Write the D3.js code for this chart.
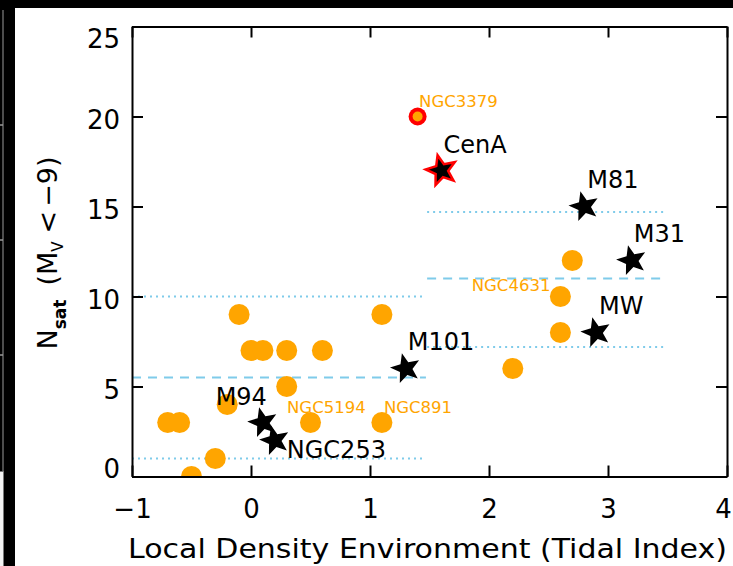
<!DOCTYPE html>
<html>
<head>
<meta charset="utf-8">
<script src="https://cdn.jsdelivr.net/npm/d3@7"></script>
<style>
  html, body { margin: 0; padding: 0; background: #fff; }
  svg { display: block; }
  text { font-family: "DejaVu Sans", sans-serif; }
</style>
</head>
<body>
<svg id="chart" width="733" height="566"></svg>
<script>
// ---- axis ticks ----
const xTickValues = [-1, 0, 1, 2, 3, 4];
const xTickLabels = ["\u22121", "0", "1", "2", "3", "4"];
const yTickValues = [0, 5, 10, 15, 20, 25];
const yTickLabels = ["0", "5", "10", "15", "20", "25"];

// ---- group galaxies (orange dots): tidal index and satellite count ----
const groupTidal = [-0.7, -0.6, -0.5, -0.3, -0.2, -0.1, 0.0, 0.1, 0.3, 0.3, 0.6, 0.5, 1.1, 1.1, 2.2, 2.6, 2.6, 2.7];
const groupNsat  = [3, 3, 0, 1, 4, 9, 7, 7, 7, 5, 7, 3, 9, 3, 6, 8, 10, 12];
const groupNames = ["", "", "", "", "", "", "", "", "", "", "", "NGC5194", "", "NGC891", "", "", "NGC4631", ""];

// ---- host galaxies (stars) ----
const hostNames = ["CenA", "M81", "M31", "MW", "M101", "M94", "NGC253"];
const hostTidal = [1.6, 2.8, 3.2, 2.9, 1.3, 0.1, 0.2];
const hostNsat  = [17, 15, 12, 8, 6, 3, 2];

// ---- highlighted group (ringed dot) ----
const ringNames = ["NGC3379"];
const ringTidal = [1.4];
const ringNsat  = [20];

// ---- mean and ±1 sigma levels for the two environment bins ----
const lowBinRange  = [-1, 1.47];
const lowBinLevels = [10, 5.5, 1];
const highBinRange  = [1.48, 3.47];
const highBinLevels = [14.7, 11.0, 7.2];
const levelKinds = ["dotted", "dashed", "dotted"];

// ---- label placement relative to each mark (pixels) ----
const hostLabelOffset = {
  CenA:   { dx: 2,  dy: -17.5, anchor: "start" },
  M81:    { dx: 3,  dy: -18.5, anchor: "start" },
  M31:    { dx: 2,  dy: -18.5, anchor: "start" },
  MW:     { dx: 3,  dy: -18.5, anchor: "start" },
  M101:   { dx: 2,  dy: -18.5, anchor: "start" },
  M94:    { dx: 4,  dy: -17.5, anchor: "end" },
  NGC253: { dx: 12, dy: 17.5,  anchor: "start" }
};
const groupLabelOffset = {
  NGC5194: { dx: -23.5, dy: -9.5, anchor: "start" },
  NGC891:  { dx: 2,     dy: -9.5, anchor: "start" },
  NGC4631: { dx: -10,   dy: -5.5, anchor: "end" },
  NGC3379: { dx: 1.5,   dy: -9.5, anchor: "start" }
};

const svg = d3.select("#chart");
const W = 733, H = 566;
const plot = { left: 132, right: 727, top: 26.5, bottom: 476.5 };

const x = d3.scaleLinear().domain([-1, 4]).range([plot.left, plot.right]);
const y = d3.scaleLinear().domain([0, 25]).range([plot.bottom, plot.top]);

const orange = "#FFA500";
const blue = "#7FCBEA";

// ---- dark frame along the top and left edges ----
svg.append("rect").attr("x", 0).attr("y", 0).attr("width", W).attr("height", H).attr("fill", "#fff");
svg.append("rect").attr("x", 0).attr("y", 0).attr("width", W).attr("height", 8).attr("fill", "#000");
svg.append("rect").attr("x", 0).attr("y", 0).attr("width", 15).attr("height", H).attr("fill", "#000");
svg.append("line").attr("x1", 3).attr("x2", 3).attr("y1", 10).attr("y2", 471)
  .attr("stroke", "#9a9a9a").attr("stroke-width", 1);
[125, 240, 355].forEach(t => {
  svg.append("line").attr("x1", 0).attr("x2", 3).attr("y1", t).attr("y2", t)
    .attr("stroke", "#9a9a9a").attr("stroke-width", 1.5);
});
svg.append("rect").attr("x", 0).attr("y", 472).attr("width", 3.5).attr("height", H - 472).attr("fill", "#f4f4f4");
svg.append("line").attr("x1", 0).attr("x2", 4).attr("y1", 471.5).attr("y2", 471.5)
  .attr("stroke", "#777").attr("stroke-width", 1);

// ---- clip region for marks ----
svg.append("defs").append("clipPath").attr("id", "plotClip")
  .append("rect")
  .attr("x", plot.left).attr("y", plot.top)
  .attr("width", plot.right - plot.left).attr("height", plot.bottom - plot.top);

const marks = svg.append("g").attr("clip-path", "url(#plotClip)");

// ---- mean / sigma level lines ----
function drawLevels(range, levels) {
  levels.forEach((lv, i) => {
    const dotted = levelKinds[i] === "dotted";
    marks.append("line")
      .attr("x1", x(range[0])).attr("x2", x(range[1]))
      .attr("y1", y(lv)).attr("y2", y(lv))
      .attr("stroke", blue)
      .attr("stroke-width", 2)
      .attr("stroke-dasharray", dotted ? "2,4" : "9,7");
  });
}
drawLevels(lowBinRange, lowBinLevels);
drawLevels(highBinRange, highBinLevels);

// ---- group galaxy dots ----
const groups = groupTidal.map((t, i) => ({ t, n: groupNsat[i], name: groupNames[i] }));
marks.selectAll("circle.group").data(groups).enter().append("circle")
  .attr("class", "group")
  .attr("cx", d => x(d.t)).attr("cy", d => y(d.n))
  .attr("r", 10.5).attr("fill", orange);

// ---- ringed highlight ----
const rings = ringTidal.map((t, i) => ({ t, n: ringNsat[i], name: ringNames[i] }));
marks.selectAll("circle.ring").data(rings).enter().append("circle")
  .attr("cx", d => x(d.t)).attr("cy", d => y(d.n))
  .attr("r", 9).attr("fill", "#ff0000");
marks.selectAll("circle.ringcore").data(rings).enter().append("circle")
  .attr("cx", d => x(d.t)).attr("cy", d => y(d.n))
  .attr("r", 5).attr("fill", orange);

// ---- host stars: five-pointed star with a slightly plump body ----
const plumpStar = {
  draw(context, size) {
    const R = Math.sqrt(size) / 1.1;
    const r = R * 0.43;
    for (let i = 0; i < 10; i++) {
      const a = -Math.PI / 2 + i * Math.PI / 5;
      const rad = i % 2 === 0 ? R : r;
      const px = rad * Math.cos(a), py = rad * Math.sin(a);
      if (i === 0) context.moveTo(px, py); else context.lineTo(px, py);
    }
    context.closePath();
  }
};
const hosts = hostTidal.map((t, i) => ({ t, n: hostNsat[i], name: hostNames[i] }));
const star = d3.symbol().type(plumpStar).size(300);
marks.selectAll("path.host").data(hosts).enter().append("path")
  .attr("class", "host")
  .attr("d", star)
  .attr("transform", d => `translate(${x(d.t)},${y(d.n)}) rotate(-14)`)
  .attr("fill", "#000")
  .attr("stroke", d => d.name === "CenA" ? "#ff0000" : "none")
  .attr("stroke-width", d => d.name === "CenA" ? 2.5 : 0)
  .attr("stroke-linejoin", "miter");

// ---- labels ----
const labels = svg.append("g");
hosts.forEach(d => {
  const o = hostLabelOffset[d.name];
  labels.append("text")
    .attr("x", x(d.t) + o.dx).attr("y", y(d.n) + o.dy)
    .attr("text-anchor", o.anchor)
    .attr("font-size", 24).attr("fill", "#000")
    .text(d.name);
});
groups.concat(rings).filter(d => d.name).forEach(d => {
  const o = groupLabelOffset[d.name];
  labels.append("text")
    .attr("x", x(d.t) + o.dx).attr("y", y(d.n) + o.dy)
    .attr("text-anchor", o.anchor)
    .attr("font-size", 16.5).attr("fill", orange)
    .text(d.name);
});

// ---- axes (ticks pointing inward on all four sides) ----
const axisStyle = g => {
  g.select(".domain").attr("stroke", "#000").attr("stroke-width", 2);
  g.selectAll(".tick line").attr("stroke", "#000").attr("stroke-width", 2);
  g.selectAll(".tick text").attr("font-size", 26).attr("fill", "#000")
    .attr("font-family", "DejaVu Sans, sans-serif");
};

const xAxis = svg.append("g").attr("transform", `translate(0,${plot.bottom})`)
  .call(d3.axisBottom(x).tickValues(xTickValues).tickSize(-11).tickSizeOuter(0)
    .tickPadding(23).tickFormat((d, i) => xTickLabels[i]))
  .call(axisStyle);
// last label is kept inside the canvas
xAxis.selectAll(".tick text").attr("dx", d => d === 4 ? -4 : 0);

svg.append("g").attr("transform", `translate(0,${plot.top})`)
  .call(d3.axisTop(x).tickValues(xTickValues).tickSize(-11).tickSizeOuter(0).tickFormat(""))
  .call(axisStyle);

const yAxis = svg.append("g").attr("transform", `translate(${plot.left},0)`)
  .call(d3.axisLeft(y).tickValues(yTickValues).tickSize(-11).tickSizeOuter(0)
    .tickPadding(12).tickFormat((d, i) => yTickLabels[i]))
  .call(axisStyle);
// end labels are pulled inside the axis range
yAxis.selectAll(".tick text")
  .attr("dy", d => d === 25 ? "0.8em" : d === 0 ? "0.04em" : "0.46em");

svg.append("g").attr("transform", `translate(${plot.right},0)`)
  .call(d3.axisRight(y).tickValues(yTickValues).tickSize(-11).tickSizeOuter(0).tickFormat(""))
  .call(axisStyle);

// ---- axis titles ----
svg.append("text")
  .attr("x", (128 + 727) / 2).attr("y", 558)
  .attr("text-anchor", "middle")
  .attr("font-size", 27)
  .attr("textLength", 599).attr("lengthAdjust", "spacingAndGlyphs")
  .text("Local Density Environment (Tidal Index)");

const yTitle = svg.append("text")
  .attr("transform", "translate(57,253) rotate(-90)")
  .attr("text-anchor", "middle")
  .attr("font-size", 27);
yTitle.append("tspan").text("N");
yTitle.append("tspan").attr("font-size", 17).attr("font-weight", "bold").attr("dy", 9).text("sat");
yTitle.append("tspan").attr("dy", -9).attr("dx", 14).text("(M");
yTitle.append("tspan").attr("font-size", 15).attr("dy", 6).text("V");
yTitle.append("tspan").attr("dy", -6).attr("dx", 8).text("<");
yTitle.append("tspan").attr("dx", 4).text("\u22129)");
</script>
</body>
</html>
